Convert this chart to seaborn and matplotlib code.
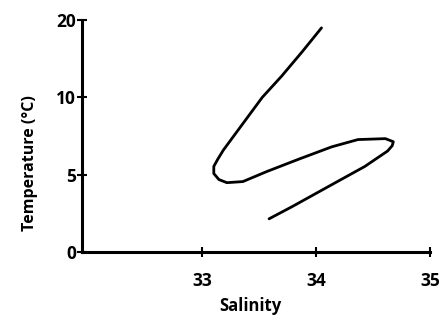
import numpy as np
import pandas as pd
import matplotlib
matplotlib.use("Agg")
import matplotlib.pyplot as plt
import seaborn as sns

# T-S curve traced from the deep end up to the surface water
salinity = [33.59, 33.79, 33.91, 34.03, 34.14, 34.43, 34.63, 34.67, 34.68, 34.61,
            34.37, 34.14, 33.85, 33.57, 33.36, 33.22, 33.15, 33.105, 33.105,
            33.14, 33.19, 33.31, 33.53, 33.70, 33.88, 34.05]
temperature = [2.14, 2.92, 3.41, 3.90, 4.35, 5.53, 6.53, 6.87, 7.13, 7.33,
               7.27, 6.80, 6.00, 5.20, 4.55, 4.48, 4.68, 5.07, 5.53,
               6.00, 6.60, 7.80, 10.0, 12.75, 15.9, 19.0]

x_ticks = [33, 34, 35]
y_ticks = [0, 5, 10, 20]
x_label = "Salinity"
y_label = "Temperature (°C)"

df = pd.DataFrame({"Salinity": salinity, "Temperature": temperature})

sns.set_theme(style="white")
plt.rcParams["font.family"] = ["Open Sans", "DejaVu Sans"]

fig = plt.figure(figsize=(4.44, 3.25), dpi=100)
ax = fig.add_axes([0.185, 0.225, 0.783, 0.713])

# temperature axis: ticks 0, 5, 10, 20 evenly spaced
t_knots = np.array(y_ticks, dtype=float)
p_knots = np.arange(len(y_ticks), dtype=float)


def fwd(v):
    return np.interp(v, t_knots, p_knots, left=-np.inf, right=np.inf)


def inv(v):
    return np.interp(v, p_knots, t_knots)


ax.set_yscale("function", functions=(fwd, inv))

sns.lineplot(data=df, x="Salinity", y="Temperature", sort=False, estimator=None,
             color="black", linewidth=2.0, ax=ax)
for ln in ax.lines:
    ln.set_solid_joinstyle("round")
    ln.set_solid_capstyle("round")

ax.set_xlim(31.95, 35.0)
ax.set_ylim(0, 20)
ax.set_xticks(x_ticks)
ax.set_yticks(y_ticks)
ax.set_xticklabels([str(v) for v in x_ticks])
ax.set_yticklabels([str(v) for v in y_ticks])

for side in ["top", "right"]:
    ax.spines[side].set_visible(False)
for side in ["left", "bottom"]:
    ax.spines[side].set_color("black")
    ax.spines[side].set_linewidth(2.2)

ax.tick_params(axis="both", direction="inout", length=7, width=1.5, color="black",
               labelsize=12.5, labelcolor="black", left=True, bottom=True)
ax.tick_params(axis="x", pad=11)
ax.tick_params(axis="y", pad=1)
for lab in ax.get_xticklabels() + ax.get_yticklabels():
    lab.set_fontweight("bold")

ax.set_xlabel(x_label, fontsize=12, fontweight="bold", color="black")
ax.set_ylabel(y_label, fontsize=11.5, fontweight="bold", color="black")
ax.xaxis.set_label_coords(0.483, -0.195)
ax.yaxis.set_label_coords(-0.128, 0.385)

fig.savefig("out.png", dpi=100, facecolor="white")
